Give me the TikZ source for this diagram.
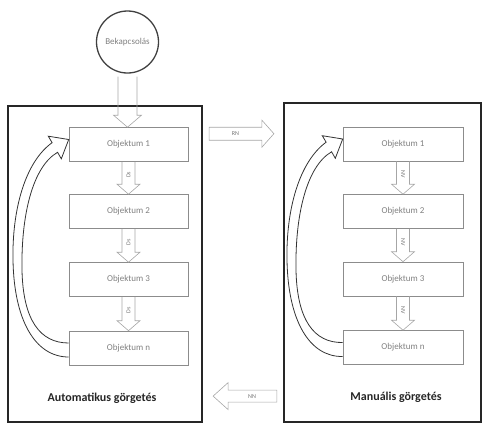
\documentclass[tikz,border=0pt]{standalone}
\usepackage{fontspec}
\setmainfont{Carlito}
\usetikzlibrary{calc}
\newcommand\vdown[4]{%
 \draw[blk] let \p1=(#1.south), \p2=(#2.north) in (\x1-6.5pt,\y1) -- (\x1-6.5pt,\y2+10pt) -- (\x1-11.5pt,\y2+10pt) -- (\x1,\y2) -- (\x1+11.5pt,\y2+10pt) -- (\x1+6.5pt,\y2+10pt) -- (\x1+6.5pt,\y1);
 \node[tiny,rotate=#4] at ($(#1.south)!0.4!(#2.north)$) {#3};}
\newcommand\loopback[3]{%
 \coordinate (t#2) at ([yshift=5pt]#2.west);
 \draw[curv] ([yshift=-9pt]#3.west) .. controls (35+#1,357) and (14+#1,320) .. (13+#1,260) .. controls (12+#1,210) and (25+#1,162) .. ($(t#2)+(-16.6,3.2)$) -- ($(t#2)+(-20.4,-3.3)$) -- (t#2) -- ($(t#2)+(-7.4,19.3)$) -- ($(t#2)+(-11.1,12.8)$) .. controls ($(t#2)+(-36,27)$) and (21+#1,215) .. (22+#1,270) .. controls (23+#1,320) and (40+#1,343) .. ([yshift=5pt]#3.west);}
\begin{document}
\begin{tikzpicture}[x=1pt,y=-1pt,
 obj/.style={draw=black!45, line width=0.6pt, minimum width=119pt, minimum height=34pt, inner sep=0pt, font=\fontsize{9}{11}\selectfont, text=black!50},
 bigbox/.style={draw=black!85, line width=2.2pt, inner sep=0pt},
 blk/.style={draw=black!35, line width=0.6pt, line join=miter},
 curv/.style={draw=black!80, line width=0.8pt},
 tiny/.style={font=\fontsize{6}{7}\selectfont, text=black!55, inner sep=0pt},
 title/.style={font=\bfseries\fontsize{12}{14}\selectfont, text=black!85}]
\useasboundingbox (0,0) rectangle (486,426);
% big boxes
\node[bigbox, minimum width=194pt, minimum height=316pt] (lbox) at (105,264) {};
\node[bigbox, minimum width=197pt, minimum height=319pt] (rbox) at (382.5,262.5) {};
% start circle
\node[circle, draw=black!75, line width=1.3pt, minimum size=62pt, inner sep=0pt, font=\fontsize{9}{11}\selectfont, text=black!50] (circ) at (127.5,42) {Bekapcsolás};
% left objects
\node[obj] (L1) at (128.5,144.5) {Objektum 1};
\node[obj] (L2) at (128.5,211.5) {Objektum 2};
\node[obj] (L3) at (128.5,279.5) {Objektum 3};
\node[obj] (L4) at (128.5,348) {Objektum n};
% right objects
\node[obj, minimum width=120pt] (R1) at (403,144) {Objektum 1};
\node[obj, minimum width=120pt] (R2) at (403,211.5) {Objektum 2};
\node[obj, minimum width=120pt] (R3) at (403,279) {Objektum 3};
\node[obj, minimum width=120pt] (R4) at (403,347.5) {Objektum n};
% titles
\node[title] (lt) at (102,398) {Automatikus görgetés};
\node[title] (rt) at (396,397) {Manuális görgetés};
% start arrow
\draw[blk] let \p1=(circ.south), \p2=(L1.north) in (\x1-9.5pt,\y1-3pt) -- (\x1-9.5pt,\y2+12pt) -- (\x1-14pt,\y2+12pt) -- (\x1,\y2) -- (\x1+14pt,\y2+12pt) -- (\x1+9.5pt,\y2+12pt) -- (\x1+9.5pt,\y1-3pt);
% vertical arrows
\vdown{L1}{L2}{Ds}{90}
\vdown{L2}{L3}{Ds}{90}
\vdown{L3}{L4}{Ds}{90}
\vdown{R1}{R2}{NV}{-90}
\vdown{R2}{R3}{NV}{-90}
\vdown{R3}{R4}{NV}{-90}
% loop arrows
\loopback{0}{L1}{L4}
\loopback{274}{R1}{R4}
% RN arrow
\draw[blk] let \p1=(lbox.east), \p2=(rbox.west), \p3=(L1.north) in
 (\x1+6pt,\y3) -- (\x2-21pt,\y3) -- (\x2-21pt,\y3+7pt) -- (\x2-9pt,\y3-6.5pt) -- (\x2-21pt,\y3-20pt) -- (\x2-21pt,\y3-13pt) -- (\x1+6pt,\y3-13pt) -- cycle
 ({0.5*\x1+0.5*\x2-7.5pt},\y3-6.5pt) node[tiny] {RN};
% NN arrow
\draw[blk] let \p1=(lbox.east), \p2=(rbox.west), \p3=(lbox.south) in
 (\x2-6pt,\y3+33pt) -- (\x1+25pt,\y3+33pt) -- (\x1+25pt,\y3+40.5pt) -- (\x1+10pt,\y3+27pt) -- (\x1+25pt,\y3+13.5pt) -- (\x1+25pt,\y3+21pt) -- (\x2-6pt,\y3+21pt) -- cycle
 ({0.5*\x1+0.5*\x2+9pt},\y3+27pt) node[tiny] {NN};
\end{tikzpicture}
\end{document}
